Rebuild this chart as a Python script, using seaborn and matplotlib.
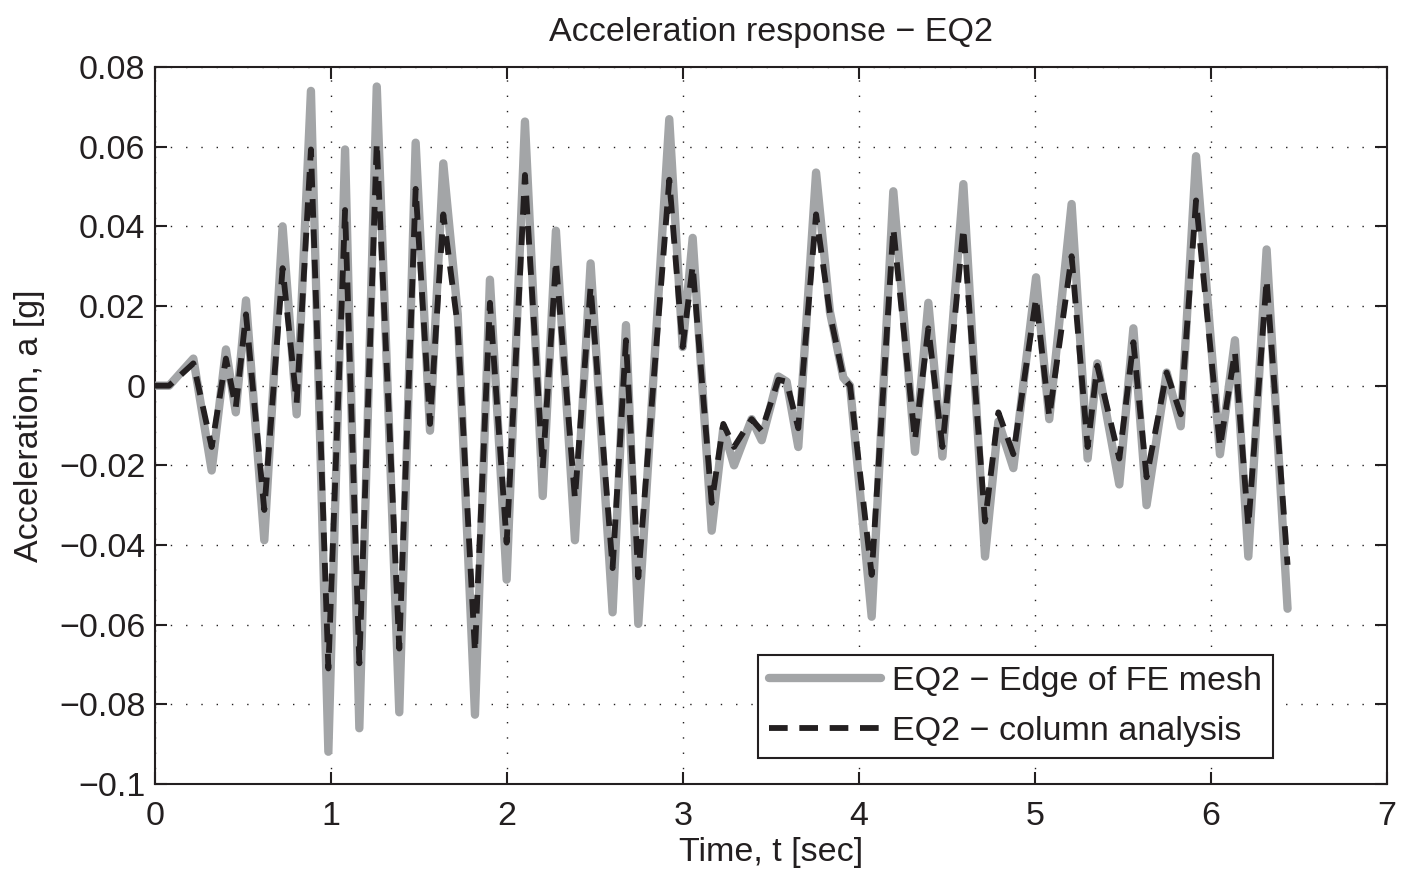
import matplotlib
matplotlib.use("Agg")
import matplotlib.pyplot as plt
import seaborn as sns
import pandas as pd

# ---- data (time in s, acceleration in g) ----
time_s = [0.00, 0.08, 0.218, 0.322, 0.403, 0.459, 0.517, 0.621, 0.725, 0.805,
          0.886, 0.985, 1.080, 1.161, 1.260, 1.388, 1.481, 1.5625, 1.638, 1.72,
          1.818, 1.903, 1.998, 2.102, 2.203, 2.278, 2.386, 2.475, 2.600, 2.676,
          2.746, 2.922, 2.998, 3.055, 3.163, 3.229, 3.290, 3.390, 3.447, 3.542,
          3.589, 3.655, 3.756, 3.835, 3.911, 3.949, 4.072, 4.195, 4.318, 4.394,
          4.474, 4.593, 4.716, 4.792, 4.877, 5.006, 5.081, 5.208, 5.299, 5.354,
          5.479, 5.559, 5.634, 5.748, 5.828, 5.915, 6.051, 6.136, 6.212, 6.316,
          6.435]

edge_fe_mesh = [0.0, 0.0, 0.0068, -0.0213, 0.0091, -0.0067, 0.0214, -0.0388, 0.0400, -0.0072,
                0.0740, -0.0919, 0.0593, -0.0860, 0.0751, -0.0820, 0.0610, -0.0113, 0.0558, 0.0180,
                -0.0826, 0.0266, -0.0487, 0.0663, -0.0277, 0.0389, -0.0388, 0.0307, -0.0569, 0.0152,
                -0.0598, 0.0669, 0.0097, 0.0371, -0.0364, -0.0107, -0.0200, -0.0084, -0.0137, 0.0023,
                0.0010, -0.0154, 0.0535, 0.0185, 0.0020, 0.0000, -0.0580, 0.0488, -0.0166, 0.0208,
                -0.0178, 0.0506, -0.0429, -0.0090, -0.0207, 0.0272, -0.0084, 0.0456, -0.0183, 0.0056,
                -0.0248, 0.0144, -0.0300, 0.0033, -0.0102, 0.0576, -0.0172, 0.0114, -0.0429, 0.0342,
                -0.0560]

column_analysis = [0.0, 0.0, 0.0056, -0.0154, 0.0068, -0.0055, 0.0179, -0.0312, 0.0295, -0.0043,
                   0.0593, -0.0710, 0.0441, -0.0697, 0.0610, -0.0660, 0.0494, -0.0096, 0.0430, 0.0150,
                   -0.0668, 0.0208, -0.0394, 0.0529, -0.0207, 0.0313, -0.0283, 0.0249, -0.0458, 0.0114,
                   -0.0481, 0.0517, 0.0097, 0.0301, -0.0294, -0.0096, -0.0154, -0.0084, -0.0113, 0.0015,
                   0.0010, -0.0107, 0.0430, 0.0180, 0.0020, 0.0000, -0.0475, 0.0395, -0.0137, 0.0144,
                   -0.0154, 0.0395, -0.0341, -0.0067, -0.0172, 0.0220, -0.0078, 0.0325, -0.0154, 0.0050,
                   -0.0183, 0.0109, -0.0230, 0.0033, -0.0072, 0.0465, -0.0154, 0.0085, -0.0353, 0.0266,
                   -0.0450]

series_labels = ["EQ2 \u2212 Edge of FE mesh", "EQ2 \u2212 column analysis"]
x_ticks = [0, 1, 2, 3, 4, 5, 6, 7]
y_ticks = [-0.1, -0.08, -0.06, -0.04, -0.02, 0, 0.02, 0.04, 0.06, 0.08]
y_tick_labels = ["\u22120.1", "\u22120.08", "\u22120.06", "\u22120.04", "\u22120.02",
                 "0", "0.02", "0.04", "0.06", "0.08"]

# ---- styling ----
sns.set_theme(style="white")
plt.rcParams["font.family"] = ["Liberation Sans", "DejaVu Sans"]
TXT = "#231f20"
FS = 24.5
plt.rcParams["text.color"] = TXT
plt.rcParams["axes.labelcolor"] = TXT
plt.rcParams["xtick.color"] = TXT
plt.rcParams["ytick.color"] = TXT

df = pd.DataFrame({"t": time_s, "edge": edge_fe_mesh, "col": column_analysis})

fig = plt.figure(figsize=(14.02, 8.77), dpi=100)
ax = fig.add_axes([155 / 1402, 1 - 784 / 877, (1387 - 155) / 1402, (784 - 67) / 877])

sns.lineplot(data=df, x="t", y="edge", ax=ax, color="#a3a5a7", linewidth=6.0,
             label=series_labels[0], sort=False, zorder=3,
             solid_joinstyle="round", solid_capstyle="round")
sns.lineplot(data=df, x="t", y="col", ax=ax, color="#231f20", linewidth=4.2,
             label=series_labels[1], sort=False, zorder=4, dashes=(3.2, 2.0))

ax.set_xlim(0, 7)
ax.set_ylim(-0.1, 0.08)
ax.set_xticks(x_ticks)
ax.set_xticklabels([str(v) for v in x_ticks])
ax.set_yticks(y_ticks)
ax.set_yticklabels(y_tick_labels)

ax.grid(True, color=TXT, linestyle=(0, (1, 10)), linewidth=1.0)
for s in ax.spines.values():
    s.set_visible(True)
    s.set_color(TXT)
    s.set_linewidth(1.5)

ax.tick_params(axis="both", direction="in", length=8.5, width=1.5, labelsize=FS,
               top=True, right=True, bottom=True, left=True)
ax.tick_params(axis="x", pad=12)
ax.tick_params(axis="y", pad=7)

ax.set_title("Acceleration response \u2212 EQ2", fontsize=FS, pad=19, color=TXT)
ax.set_xlabel("Time, t [sec]", fontsize=FS, labelpad=4)
ax.set_ylabel("Acceleration, a [g]", fontsize=FS, labelpad=10)

leg = ax.legend(loc="lower left", bbox_to_anchor=(0.4894, 0.0363), fontsize=FS,
                frameon=True, fancybox=False, shadow=False, framealpha=1,
                edgecolor=TXT, borderpad=0.33, handlelength=3.3, handletextpad=0.3,
                labelspacing=0.55, borderaxespad=0)
leg.get_frame().set_linewidth(1.5)

fig.savefig("out.png", dpi=100)
